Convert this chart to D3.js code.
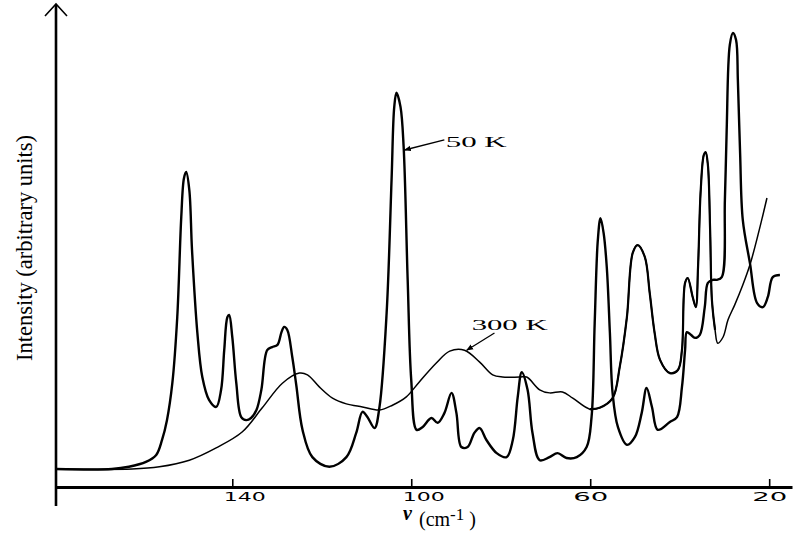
<!DOCTYPE html>
<html>
<head>
<meta charset="utf-8">
<script src="https://cdn.jsdelivr.net/npm/d3@7"></script>
<style>
  body { margin: 0; background: #fff; }
  .chart text { fill: #000; }
  .tick-label { font-family: "DejaVu Sans", sans-serif; font-size: 12px; }
  .note { font-family: "Liberation Serif", serif; font-size: 15px; }
</style>
</head>
<body>
<svg class="chart"></svg>
<script>
// wavenumber (cm-1) and intensity, 50 K spectrum
var nu50 = [179.4,166.9,163.1,159.3,157.0,155.7,154.6,153.4,152.3,151.4,150.8,150.3,149.6,149.0,147.8,146.7,145.2,143.6,142.5,141.8,141.1,140.7,140.0,139.1,138.0,136.9,135.8,134.6,133.5,132.2,131.1,129.9,129.0,128.4,127.7,126.6,125.7,124.3,122.1,118.3,114.5,112.3,110.9,109.8,108.2,107.1,105.5,104.4,103.8,103.3,102.4,101.7,100.8,100.0,98.8,97.5,95.5,94.1,92.6,91.0,89.9,88.8,87.4,85.9,84.7,83.2,80.9,78.7,77.3,76.2,75.3,74.0,72.9,71.3,69.1,67.3,65.3,63.0,60.8,59.7,59.0,58.3,57.7,57.0,56.3,55.6,55.0,53.8,51.8,50.0,48.5,47.4,46.2,44.9,42.2,40.6,39.5,38.8,38.4,37.5,36.6,35.5,34.4,33.7,32.6,31.7,30.6,29.9,29.5,28.8,28.1,27.4,27.0,26.5,25.9,24.3,22.7,21.4,20.3,19.2,17.6];
var int50 = [0,0,0.5,1.6,3.2,6.6,11.1,19.5,34.5,57.3,66.1,67.5,63.4,49.8,30.9,20.9,15.7,14.1,18.0,27.0,34.5,35.0,30.0,19.5,11.8,11.1,11.6,13.4,18.0,27.0,27.7,28.2,31.1,32.3,31.6,25.5,19.1,8.9,2.7,0.5,2.7,8.2,13.0,11.8,9.3,14.1,35.5,65.7,82.3,85.5,82.3,73.2,43.0,20.2,8.9,9.5,11.6,10.5,12.7,17.3,12.7,5.0,5.0,8.2,9.3,6.6,3.6,2.7,6.6,16.4,22.0,18.0,8.2,2.0,2.7,3.6,2.5,2.7,5.0,11.8,33.2,52.0,57.0,53.6,45.9,30.9,17.3,9.5,5.5,7.3,12.7,18.4,14.1,8.9,10.7,11.8,18.6,27.0,31.1,30.5,29.8,30.5,36.8,42.3,43.0,43.0,43.6,61.1,77.0,96.4,99.1,97.5,88.4,71.8,56.6,46.8,37.7,36.8,39.1,43.6,44.1];

// 300 K spectrum
var nu300 = [179.4,162.4,156.3,149.6,143.6,137.8,133.3,128.8,125.0,123.2,120.5,117.6,114.5,110.9,107.1,104.2,101.1,98.2,94.4,91.4,88.1,84.7,81.8,79.6,75.8,74.2,71.3,69.1,66.2,63.9,60.1,57.9,55.0,53.4,51.8,50.5,49.4,47.8,46.7,45.6,44.4,42.2,40.4,39.5,38.8,38.2,37.1,36.4,35.9,35.3,34.6,34.2,33.7,33.2,32.8,32.1,31.5,30.3,29.2,27.7,25.9,24.3,22.5,20.5];
var int300 = [0,0,0.5,2.0,4.8,8.4,13.9,19.5,21.8,21.4,18.6,16.1,14.8,14.1,13.4,14.5,16.4,19.8,24.1,26.8,27.0,24.3,21.4,20.9,20.9,20.9,18.0,17.3,17.5,16.1,13.6,13.9,16.1,23.2,34.5,49.1,50.9,48.2,40.0,30.9,24.8,21.8,22.5,27.0,42.3,43.4,39.1,36.8,45.9,63.4,71.4,72.0,69.1,54.3,38.4,31.6,28.6,30.0,33.9,37.3,41.8,46.4,53.2,61.6];

var xTicks = [140, 100, 60, 20];

// curve labels with their leader lines (text start, leader start -> point on curve)
var noteText = ["50 K", "300 K"];
var noteNu = [92.3, 86.5], noteInt = [73.2, 31.6];
var leadFromNu = [92.6, 81.4], leadFromInt = [74.8, 30.9];
var leadToNu = [101.5, 87.6], leadToInt = [72.5, 27.0];

var width = 800, height = 534;

var svg = d3.select(".chart")
  .attr("width", width)
  .attr("height", height);

var x = d3.scaleLinear().domain([179.4, 14.9]).range([56, 792]);
var y = d3.scaleLinear().domain([0, 100]).range([469, 29]);

var line = d3.line()
  .x(function(d) { return x(d[0]); })
  .y(function(d) { return y(d[1]); })
  .curve(d3.curveCatmullRom.alpha(0.5));

// spectra
var warm = d3.zip(nu300, int300);
svg.append("path")
  .datum(warm)
  .attr("d", line)
  .attr("fill", "none")
  .attr("stroke", "#000")
  .attr("stroke-width", 1.5)
  .attr("stroke-linejoin", "round");

// the ink is heavier on the low-frequency hump, redraw that stretch bolder
svg.append("path")
  .datum(warm.filter(function(d) { return d[0] <= 61 && d[0] >= 32; }))
  .attr("d", line)
  .attr("fill", "none")
  .attr("stroke", "#000")
  .attr("stroke-width", 2.2)
  .attr("stroke-linejoin", "round");

svg.append("path")
  .datum(d3.zip(nu50, int50))
  .attr("d", line)
  .attr("fill", "none")
  .attr("stroke", "#000")
  .attr("stroke-width", 2.4)
  .attr("stroke-linejoin", "round");

// x axis, ticks pointing up
var xAxis = d3.axisBottom(x)
  .tickValues(xTicks)
  .tickSizeInner(-8)
  .tickSizeOuter(0)
  .tickPadding(5);

var gx = svg.append("g")
  .attr("transform", "translate(0,487)")
  .call(xAxis);
gx.select(".domain").attr("stroke", "#000").attr("stroke-width", 3.2);
gx.selectAll(".tick line").attr("stroke", "#000").attr("stroke-width", 1.6);
gx.selectAll(".tick text")
  .attr("class", "tick-label")
  .attr("font-family", null).attr("font-size", null)
  .attr("dx", function(d) { return String(d).charAt(0) === "1" ? 12 : 0; })
  .attr("textLength", function(d) { return String(d).length > 2 ? 42 : 35; })
  .attr("lengthAdjust", "spacingAndGlyphs");

// y axis with arrow head
var x0 = x.range()[0];
svg.append("path")
  .attr("d", "M" + x0 + ",506V5")
  .attr("stroke", "#000").attr("stroke-width", 2.6).attr("fill", "none");
svg.append("path")
  .attr("d", "M" + (x0 - 11) + ",16L" + x0 + ",4L" + (x0 + 11) + ",16")
  .attr("stroke", "#000").attr("stroke-width", 1.6).attr("fill", "none");

// axis titles
svg.append("text")
  .attr("transform", "translate(32,248) rotate(-90)")
  .attr("text-anchor", "middle")
  .style("font-family", "Liberation Serif, serif")
  .style("font-size", "22.5px")
  .text("Intensity (arbitrary units)");

var xt = svg.append("text")
  .attr("x", 403).attr("y", 520)
  .style("font-family", "Liberation Serif, serif");
xt.append("tspan").style("font-size", "20px").style("font-weight", "bold").style("font-style", "italic").text("ν");
xt.append("tspan").attr("x", 419).attr("y", 526).style("font-size", "20px").text("(cm");
xt.append("tspan").attr("dy", -6).style("font-size", "17px").text("-1");
xt.append("tspan").attr("dy", 6).style("font-size", "20px").text(" )");

// leader lines and curve labels
svg.append("defs").append("marker")
  .attr("id", "arr")
  .attr("viewBox", "0 0 10 10")
  .attr("refX", 9).attr("refY", 5)
  .attr("markerWidth", 7).attr("markerHeight", 7)
  .attr("markerUnits", "userSpaceOnUse")
  .attr("orient", "auto")
  .append("path").attr("d", "M0,1L10,5L0,9Z").attr("fill", "#000");

svg.selectAll(".lead")
  .data(noteText)
  .enter()
  .append("line")
  .attr("class", "lead")
  .attr("x1", function(d, i) { return x(leadFromNu[i]); })
  .attr("y1", function(d, i) { return y(leadFromInt[i]); })
  .attr("x2", function(d, i) { return x(leadToNu[i]); })
  .attr("y2", function(d, i) { return y(leadToInt[i]); })
  .attr("stroke", "#000")
  .attr("stroke-width", 1.3)
  .attr("marker-end", "url(#arr)");

svg.selectAll(".note")
  .data(noteText)
  .enter()
  .append("text")
  .attr("class", "note")
  .attr("x", function(d, i) { return x(noteNu[i]); })
  .attr("y", function(d, i) { return y(noteInt[i]); })
  .attr("textLength", function(d) { return d.length * 15 + 1; })
  .attr("lengthAdjust", "spacingAndGlyphs")
  .text(function(d) { return d; });
</script>
</body>
</html>
